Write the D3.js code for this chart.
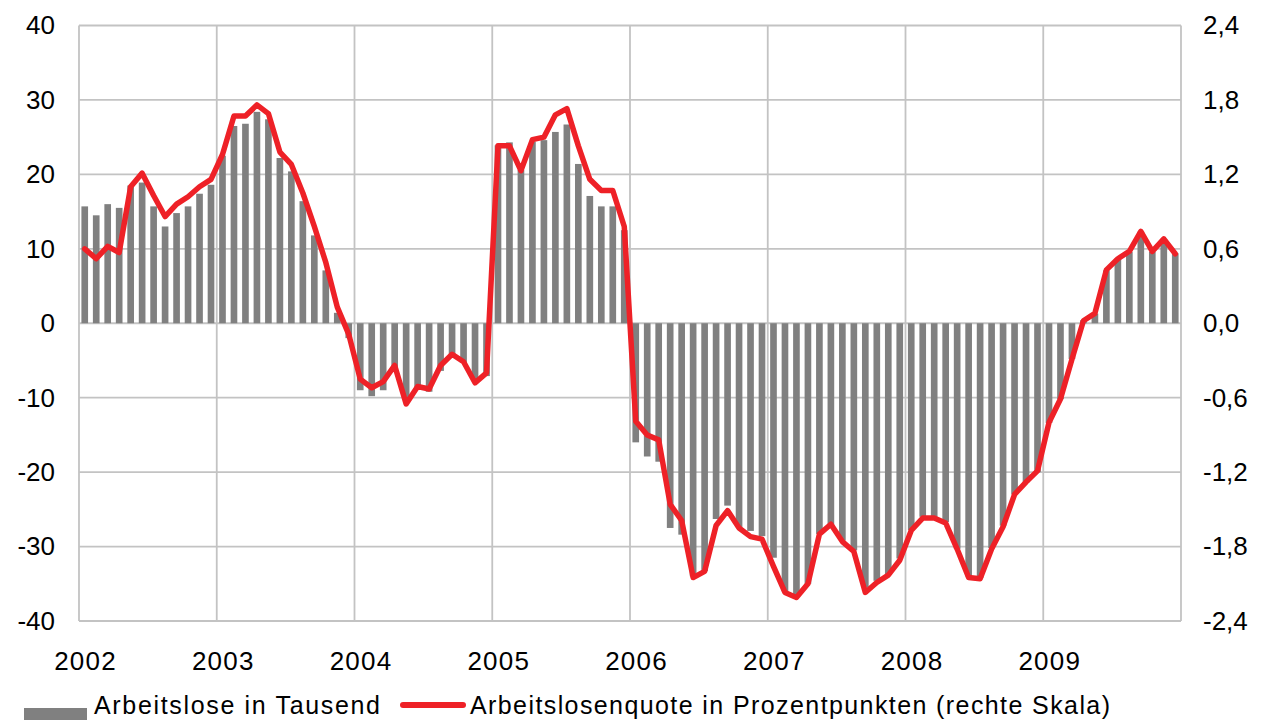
<!DOCTYPE html>
<html><head><meta charset="utf-8">
<script src="https://cdn.jsdelivr.net/npm/d3@7"></script>
<style>
html,body{margin:0;padding:0;background:#fff;}
svg text{font-family:"Liberation Sans",Arial,sans-serif;fill:#000;}
</style></head>
<body>
<svg id="chart" width="1261" height="720"></svg>
<script>
const years = [2002, 2003, 2004, 2005, 2006, 2007, 2008, 2009];
const leftTicks = [-40, -30, -20, -10, 0, 10, 20, 30, 40];
const rightTicks = [-2.4, -1.8, -1.2, -0.6, 0, 0.6, 1.2, 1.8, 2.4];
// Arbeitslose in Tausend (monthly, Jan 2002 - Dec 2009)
const arbeitslose = [
  15.7, 14.5, 16.0, 15.5, 18.5, 18.9, 15.7, 13.0, 14.8, 15.7, 17.4, 18.6,
  22.5, 26.5, 26.8, 28.4, 27.4, 22.2, 20.4, 16.4, 11.8, 7.1, 1.4, -2.0,
  -9.0, -9.8, -9.0, -6.5, -10.0, -8.7, -9.2, -6.4, -4.6, -5.3, -7.8, -7.1,
  23.9, 24.3, 20.6, 24.4, 24.6, 25.7, 26.7, 21.4, 17.1, 15.7, 15.7, 12.5,
  -16.0, -17.9, -18.6, -27.5, -28.4, -34.0, -33.3, -26.3, -24.5, -27.4, -27.9, -28.6,
  -31.5, -36.0, -36.6, -35.0, -28.3, -27.4, -29.2, -30.5, -35.5, -34.6, -33.7, -31.6,
  -27.8, -26.0, -26.0, -26.7, -30.3, -34.0, -34.2, -30.2, -27.2, -23.0, -21.4, -20.0,
  -13.4, -10.2, -4.8, 0.4, 1.3, 7.1, 8.7, 9.6, 12.3, 9.6, 11.3, 9.4
];
// Arbeitslosenquote in Prozentpunkten (rechte Skala)
const quote = [
  0.60, 0.52, 0.62, 0.57, 1.10, 1.21, 1.03, 0.86, 0.96, 1.02, 1.10, 1.16,
  1.36, 1.67, 1.67, 1.76, 1.69, 1.38, 1.28, 1.05, 0.78, 0.49, 0.13, -0.09,
  -0.45, -0.52, -0.47, -0.34, -0.65, -0.51, -0.53, -0.34, -0.25, -0.31, -0.48, -0.40,
  1.43, 1.43, 1.23, 1.48, 1.50, 1.68, 1.73, 1.43, 1.16, 1.07, 1.07, 0.78,
  -0.79, -0.90, -0.94, -1.46, -1.59, -2.05, -2.00, -1.63, -1.51, -1.65, -1.72, -1.74,
  -1.96, -2.17, -2.21, -2.10, -1.70, -1.62, -1.76, -1.84, -2.17, -2.09, -2.03, -1.91,
  -1.67, -1.57, -1.57, -1.61, -1.82, -2.05, -2.06, -1.82, -1.64, -1.38, -1.28, -1.19,
  -0.80, -0.61, -0.29, 0.02, 0.08, 0.43, 0.52, 0.58, 0.74, 0.58, 0.68, 0.56
];
const legendLabels = ["Arbeitslose in Tausend", "Arbeitslosenquote in Prozentpunkten (rechte Skala)"];

const svg = d3.select("#chart");
const L = 79, R = 1181, T = 25.5, B = 621;
const fs = 26;

const months = d3.range(arbeitslose.length);
const x = d3.scaleBand().domain(months).range([L, R]).paddingInner(0.42).paddingOuter(0.21);
const xYear = d3.scaleLinear().domain([2002, 2010]).range([L, R]);
const yL = d3.scaleLinear().domain([-40, 40]).range([B, T]);
const yR = d3.scaleLinear().domain([-2.4, 2.4]).range([B, T]);

const grid = svg.append("g");
grid.selectAll("line.h").data(leftTicks).join("line")
  .attr("x1", L).attr("x2", R).attr("y1", d => yL(d)).attr("y2", d => yL(d))
  .attr("stroke", "#c3c3c3").attr("stroke-width", 1.8);
grid.selectAll("line.v").data(d3.range(2002, 2011)).join("line")
  .attr("x1", d => xYear(d)).attr("x2", d => xYear(d)).attr("y1", T).attr("y2", B)
  .attr("stroke", "#c3c3c3").attr("stroke-width", 1.8);

svg.append("g").selectAll("rect").data(arbeitslose).join("rect")
  .attr("x", (d, i) => x(i)).attr("width", x.bandwidth())
  .attr("y", d => Math.min(yL(d), yL(0))).attr("height", d => Math.abs(yL(d) - yL(0)))
  .attr("fill", "#808080");

const line = d3.line().x((d, i) => x(i) + x.bandwidth() / 2).y(d => yR(d)).curve(d3.curveLinear);
svg.append("path").datum(quote).attr("d", line)
  .attr("fill", "none").attr("stroke", "#ee2127").attr("stroke-width", 5.5)
  .attr("stroke-linejoin", "round").attr("stroke-linecap", "round");

const axL = svg.append("g").attr("transform", `translate(${L},0)`)
  .call(d3.axisLeft(yL).tickValues(leftTicks).tickSize(0).tickPadding(24).tickFormat(d => String(d)));
const axR = svg.append("g").attr("transform", `translate(${R},0)`)
  .call(d3.axisRight(yR).tickValues(rightTicks).tickSize(0).tickPadding(22)
    .tickFormat(d => d.toFixed(1).replace(".", ",").replace("-0,0", "0,0")));
const axX = svg.append("g").attr("transform", `translate(0,${B})`)
  .call(d3.axisBottom(xYear).tickValues(years).tickSize(0).tickPadding(31).tickFormat(d => String(d)));
[axL, axR, axX].forEach(a => {
  a.select(".domain").remove();
  a.selectAll("text").attr("font-size", fs).attr("font-family", "Liberation Sans, Arial, sans-serif").attr("fill", "#000");
});
axX.selectAll("text").attr("letter-spacing", "1.2px").attr("dx", 6);

const lg = svg.append("g");
lg.append("rect").attr("x", 24).attr("y", 708).attr("width", 63).attr("height", 14).attr("fill", "#808080");
lg.append("text").attr("x", 94).attr("y", 714).attr("font-size", 25)
  .attr("textLength", 286).attr("lengthAdjust", "spacing").text(legendLabels[0]);
lg.append("line").attr("x1", 403).attr("x2", 463).attr("y1", 705).attr("y2", 705)
  .attr("stroke", "#ee2127").attr("stroke-width", 6).attr("stroke-linecap", "round");
lg.append("text").attr("x", 470).attr("y", 714).attr("font-size", 25)
  .attr("textLength", 640).attr("lengthAdjust", "spacing").text(legendLabels[1]);
</script>
</body></html>
